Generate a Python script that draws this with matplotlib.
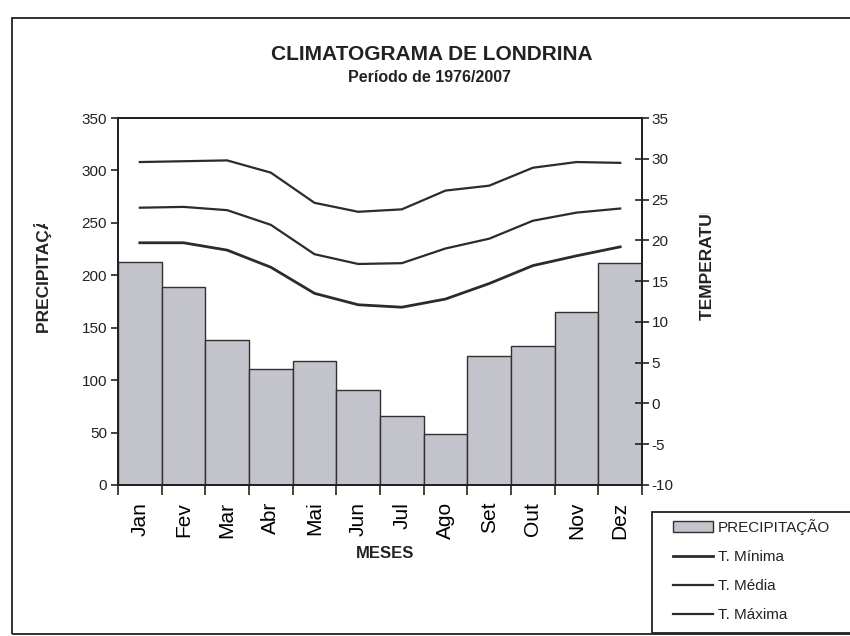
import matplotlib
matplotlib.use("Agg")
import matplotlib.pyplot as plt
from matplotlib.patches import Rectangle, Patch
from matplotlib.lines import Line2D
from matplotlib.transforms import Bbox, TransformedBbox

plt.rcParams['font.family'] = ['Liberation Sans', 'DejaVu Sans']
plt.rcParams['axes.unicode_minus'] = False

# data
meses = ["Jan", "Fev", "Mar", "Abr", "Mai", "Jun", "Jul", "Ago", "Set", "Out", "Nov", "Dez"]
precipitacao = [213, 189, 138, 111, 118, 91, 66, 49, 123, 133, 165, 212]
t_maxima = [29.6, 29.7, 29.8, 28.3, 24.6, 23.5, 23.8, 26.1, 26.7, 28.9, 29.6, 29.5]
t_media = [24.0, 24.1, 23.7, 21.9, 18.3, 17.1, 17.2, 19.0, 20.2, 22.4, 23.4, 23.9]
t_minima = [19.7, 19.7, 18.8, 16.7, 13.5, 12.1, 11.8, 12.8, 14.7, 16.9, 18.1, 19.2]
prec_ticks = list(range(0, 351, 50))
temp_ticks = list(range(-10, 36, 5))

W, H = 850, 636
fig = plt.figure(figsize=(W / 100, H / 100), dpi=100)
fig.patch.set_facecolor("white")

ink = "#222222"
bar_color = "#c3c3cb"
line_color = "#2b2b2b"

# outer chart frame (right side runs off the picture)
fig.add_artist(Rectangle((12 / W, 2 / H), (W + 20 - 12) / W, (H - 20) / H,
                         transform=fig.transFigure, fill=False,
                         edgecolor=ink, linewidth=1.3))

ax = fig.add_axes([118 / W, (H - 485) / H, (642 - 118) / W, (485 - 118) / H])
x = list(range(len(meses)))
ax.bar(x, precipitacao, width=1.0, color=bar_color, edgecolor="#303030", linewidth=1.0)
ax.set_xlim(-0.5, 11.5)
ax.set_ylim(0, 350)
ax.set_yticks(prec_ticks)
ax.tick_params(axis="y", direction="out", length=5, width=1.2, labelsize=11, colors=ink, pad=3)

# ticks at category edges, labels at centers
ax.set_xticks([i - 0.5 for i in range(len(meses) + 1)])
ax.set_xticklabels([])
ax.set_xticks(x, meses, minor=True)
ax.tick_params(axis="x", which="major", direction="out", length=7, width=1.2, colors=ink)
ax.tick_params(axis="x", which="minor", length=0, labelsize=15, labelrotation=90, pad=12)

for sp in ax.spines.values():
    sp.set_color(ink)
    sp.set_linewidth(1.4)

ax2 = ax.twinx()
ax2.plot(x, t_minima, color=line_color, linewidth=2.0)
ax2.plot(x, t_media, color=line_color, linewidth=1.6)
ax2.plot(x, t_maxima, color=line_color, linewidth=1.6)
ax2.set_ylim(-10, 35)
ax2.set_yticks(temp_ticks)
ax2.tick_params(axis="y", direction="inout", length=10, width=1.2, labelsize=11, colors=ink, pad=2)
for sp in ax2.spines.values():
    sp.set_color(ink)
    sp.set_linewidth(1.4)

# titles
fig.text(432 / W, 1 - 55 / H, "CLIMATOGRAMA DE LONDRINA", ha="center", va="center",
         fontsize=15, fontweight="bold", color=ink)
fig.text(430 / W, 1 - 77 / H, "Período de 1976/2007", ha="center", va="center",
         fontsize=11.5, fontweight="bold", color=ink)
fig.text(385 / W, 1 - 554 / H, "MESES", ha="center", va="center",
         fontsize=12, fontweight="bold", color=ink)

# axis titles, truncated like in the original
t1 = fig.text(43 / W, 1 - 333 / H, "PRECIPITAÇÃO (mm)", rotation=90, rotation_mode="anchor",
              ha="left", va="center", fontsize=12.5, fontweight="bold", color=ink)
t1.set_clip_box(TransformedBbox(Bbox([[0, 0], [1, 1 - 224 / H]]), fig.transFigure))
t1.set_clip_on(True)
t2 = fig.text(707 / W, 1 - 320 / H, "TEMPERATURA (°C)", rotation=90, rotation_mode="anchor",
              ha="left", va="center", fontsize=12.5, fontweight="bold", color=ink)
t2.set_clip_box(TransformedBbox(Bbox([[0, 0], [1, 1 - 213 / H]]), fig.transFigure))
t2.set_clip_on(True)

# legend box (right side runs off the picture)
fig.add_artist(Rectangle((652 / W, 3 / H), (W + 20 - 652) / W, (633 - 512) / H,
                         transform=fig.transFigure, fill=False,
                         edgecolor=ink, linewidth=1.3))
handles = [
    Patch(facecolor=bar_color, edgecolor="#303030", linewidth=1.0),
    Line2D([], [], color=line_color, linewidth=2.0),
    Line2D([], [], color=line_color, linewidth=1.6),
    Line2D([], [], color=line_color, linewidth=1.6),
]
labels = ["PRECIPITAÇÃO", "T. Mínima", "T. Média", "T. Máxima"]
fig.legend(handles, labels, loc="upper left", bbox_to_anchor=(673 / W, 1 - 519 / H),
           frameon=False, fontsize=11, borderpad=0, borderaxespad=0,
           handlelength=2.6, handletextpad=0.33, labelspacing=0.99, labelcolor=ink)

fig.savefig("out.png", dpi=100, facecolor="white")
